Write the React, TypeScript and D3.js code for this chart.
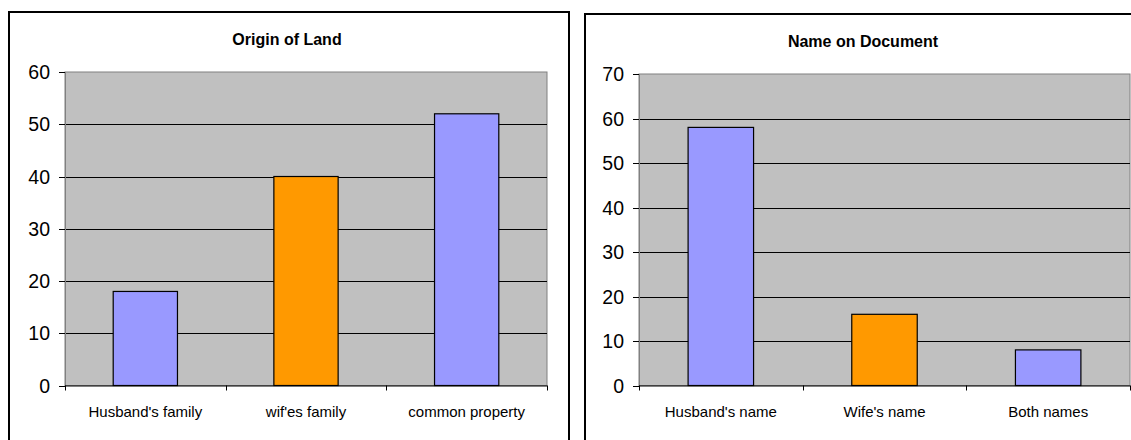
import React from "react";
import * as d3 from "d3";

// ---- data ----
const landCategories = ["Husband's family", "wif'es family", "common property"];
const landValues = [18, 40, 52];
const landTicks = [0, 10, 20, 30, 40, 50, 60];

const docCategories = ["Husband's name", "Wife's name", "Both names"];
const docValues = [58, 16, 8];
const docTicks = [0, 10, 20, 30, 40, 50, 60, 70];

const barColors = ["#9999FF", "#FF9900", "#9999FF"];

const FONT = "'Liberation Sans', Arial, sans-serif";

type ChartProps = {
  title: string;
  categories: string[];
  values: number[];
  ticks: number[];
  box: { x: number; y: number; w: number; h: number };
  plot: { x0: number; x1: number; y0: number; y1: number };
};

function BarChart({ title, categories, values, ticks, box, plot }: ChartProps) {
  const x = d3
    .scaleBand<string>()
    .domain(categories)
    .range([plot.x0, plot.x1])
    .paddingInner(0.6)
    .paddingOuter(0.3);
  const y = d3
    .scaleLinear()
    .domain([0, d3.max(ticks) as number])
    .range([plot.y1, plot.y0]);
  const step = x.step();
  const boundaries = d3.range(categories.length + 1).map((i) => plot.x0 + i * step);
  return (
    <g>
      <rect x={box.x} y={box.y} width={box.w} height={box.h} fill="#fff" stroke="#000" strokeWidth={2} />
      <text
        x={box.x + box.w / 2 - 2}
        y={box.y + 33}
        textAnchor="middle"
        fontFamily={FONT}
        fontWeight="bold"
        fontSize={16}
        fill="#000"
      >
        {title}
      </text>
      <rect
        x={plot.x0}
        y={plot.y0}
        width={plot.x1 - plot.x0}
        height={plot.y1 - plot.y0}
        fill="#C0C0C0"
        stroke="#808080"
        strokeWidth={1}
      />
      {ticks
        .filter((t) => t > 0 && t < (d3.max(ticks) as number))
        .map((t) => (
          <line key={"g" + t} x1={plot.x0} x2={plot.x1} y1={Math.round(y(t)) + 0.5} y2={Math.round(y(t)) + 0.5} stroke="#000" strokeWidth={1} />
        ))}
      {categories.map((c, i) => (
        <rect
          key={c}
          x={x(c)}
          y={y(values[i])}
          width={x.bandwidth()}
          height={y(0) - y(values[i])}
          fill={barColors[i]}
          stroke="#000"
          strokeWidth={1.2}
        />
      ))}
      {/* y axis */}
      <line x1={plot.x0 + 0.5} x2={plot.x0 + 0.5} y1={plot.y0} y2={plot.y1} stroke="#808080" strokeWidth={1} />
      {ticks.map((t) => (
        <g key={"t" + t}>
          <line x1={plot.x0 - 6} x2={plot.x0} y1={Math.round(y(t)) + 0.5} y2={Math.round(y(t)) + 0.5} stroke="#000" strokeWidth={1} />
          <text
            x={plot.x0 - 15}
            y={y(t) + 7}
            textAnchor="end"
            fontFamily={FONT}
            fontSize={19.5}
            fill="#000"
          >
            {t}
          </text>
        </g>
      ))}
      {/* x axis */}
      <line x1={plot.x0} x2={plot.x1} y1={plot.y1 + 0.5} y2={plot.y1 + 0.5} stroke="#000" strokeWidth={1} />
      {boundaries.map((b, i) => (
        <line key={"b" + i} x1={Math.round(b) + 0.5} x2={Math.round(b) + 0.5} y1={plot.y1} y2={plot.y1 + 5} stroke="#000" strokeWidth={1} />
      ))}
      {categories.map((c) => (
        <text
          key={"l" + c}
          x={(x(c) as number) + x.bandwidth() / 2}
          y={plot.y1 + 31}
          textAnchor="middle"
          fontFamily={FONT}
          fontSize={15}
          fill="#000"
        >
          {c}
        </text>
      ))}
    </g>
  );
}

export default function App() {
  return (
    <svg
      width={1131}
      height={440}
      style={{ position: "absolute", left: 0, top: 0, background: "#fff" }}
    >
      <BarChart
        title="Origin of Land"
        categories={landCategories}
        values={landValues}
        ticks={landTicks}
        box={{ x: 9, y: 12, w: 560, h: 440 }}
        plot={{ x0: 65, x1: 547, y0: 72, y1: 385.5 }}
      />
      <BarChart
        title="Name on Document"
        categories={docCategories}
        values={docValues}
        ticks={docTicks}
        box={{ x: 585, y: 14, w: 560, h: 440 }}
        plot={{ x0: 639, x1: 1130, y0: 74, y1: 385.5 }}
      />
    </svg>
  );
}
